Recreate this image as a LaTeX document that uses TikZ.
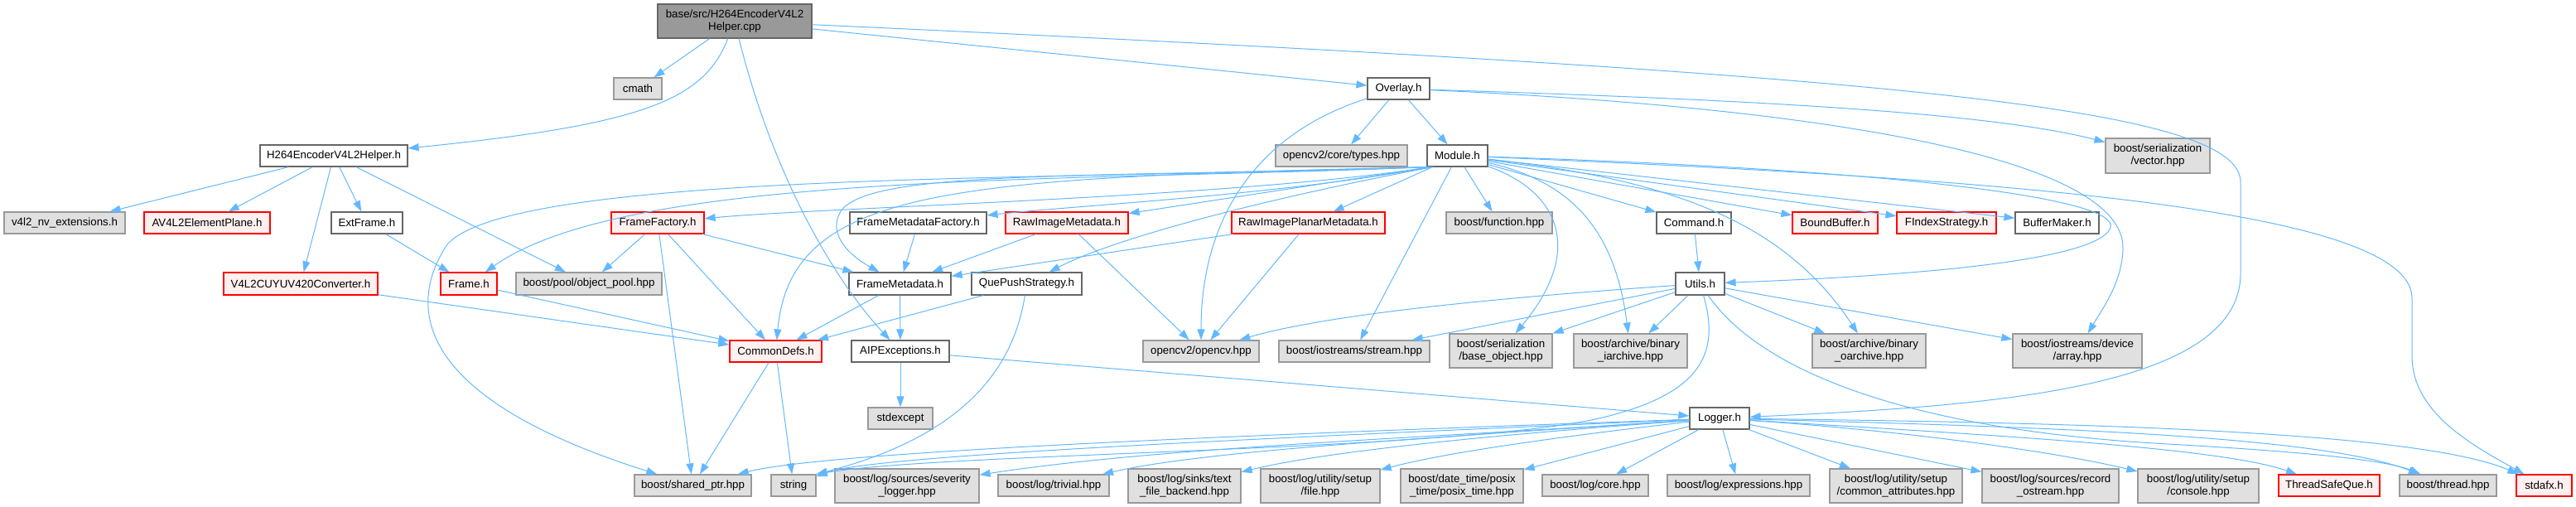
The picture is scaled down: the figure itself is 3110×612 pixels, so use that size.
\documentclass[tikz,border=0pt]{standalone}
\usepackage{fontspec}
\setmainfont{Liberation Sans}
\usetikzlibrary{arrows.meta}
\definecolor{edgec}{HTML}{63B8FF}
\definecolor{bordn}{HTML}{666666}
\definecolor{bordg}{HTML}{999999}
\definecolor{fillg}{HTML}{E0E0E0}
\definecolor{fillr}{HTML}{FFF0F0}
\definecolor{fillroot}{HTML}{999999}
\newcommand{\nfont}{\fontsize{13.3}{15}\selectfont}
\newcommand{\bx}[7]{%
  \pgfmathsetmacro{\bxcx}{(#3+#5)/2}\pgfmathsetmacro{\bxcy}{(#4+#6)/2}%
  \pgfmathsetmacro{\bxw}{#5-#3}\pgfmathsetmacro{\bxh}{#6-#4}%
  \node[#2, minimum width=\bxw pt, minimum height=\bxh pt] (#1) at (\bxcx,\bxcy) {#7};}
\tikzset{
  nd/.style={draw=bordn, fill=white, line width=1.2pt, inner sep=0pt, align=center, font=\nfont},
  gr/.style={nd, draw=bordg, fill=fillg},
  rd/.style={nd, draw=red, fill=fillr},
  rt/.style={nd, draw=bordn, fill=fillroot},
  e/.style={draw=edgec, line width=1pt, -{Triangle[length=13pt,width=9pt]}}
}
\begin{document}
\begin{tikzpicture}[x=1pt,y=-1pt]
\useasboundingbox (0,0) rectangle (3110,612);
% row 0
\bx{root}{rt}{794}{5}{980}{46}{base/src/H264EncoderV4L2\\Helper.cpp}
% row 1
\bx{cmath}{gr}{741}{94}{799}{120}{cmath}
\bx{overlay}{nd}{1651}{94}{1726}{120}{Overlay.h}
% row 2
\bx{h264h}{nd}{314}{175}{492}{201}{H264EncoderV4L2Helper.h}
\bx{types}{gr}{1540}{175}{1699}{201}{opencv2/core/types.hpp}
\bx{module}{nd}{1723}{175}{1796}{201}{Module.h}
\bx{vector}{gr}{2542}{167}{2668}{209}{boost/serialization\\/vector.hpp}
% row 3
\bx{v4l2}{gr}{5}{256}{151}{282}{v4l2\_nv\_extensions.h}
\bx{av4l2}{rd}{174}{256}{326}{282}{AV4L2ElementPlane.h}
\bx{extframe}{nd}{400}{256}{486}{282}{ExtFrame.h}
\bx{ff}{rd}{738}{256}{850}{282}{FrameFactory.h}
\bx{fmf}{nd}{1026}{256}{1191}{282}{FrameMetadataFactory.h}
\bx{rawimg}{rd}{1214}{256}{1362}{282}{RawImageMetadata.h}
\bx{rawplanar}{rd}{1487}{256}{1672}{282}{RawImagePlanarMetadata.h}
\bx{function}{gr}{1746}{256}{1874}{282}{boost/function.hpp}
\bx{command}{nd}{2000}{256}{2090}{282}{Command.h}
\bx{boundbuf}{rd}{2164}{256}{2267}{282}{BoundBuffer.h}
\bx{findex}{rd}{2290}{256}{2410}{282}{FIndexStrategy.h}
\bx{bufmaker}{nd}{2433}{256}{2534}{282}{BufferMaker.h}
% row 4
\bx{v4l2cu}{rd}{270}{329}{456}{356}{V4L2CUYUV420Converter.h}
\bx{frame}{rd}{532}{329}{600}{356}{Frame.h}
\bx{objpool}{gr}{623}{329}{799}{356}{boost/pool/object\_pool.hpp}
\bx{fmeta}{nd}{1025}{329}{1148}{356}{FrameMetadata.h}
\bx{quepush}{nd}{1173}{329}{1306}{356}{QuePushStrategy.h}
\bx{utils}{nd}{2023}{329}{2082}{356}{Utils.h}
% row 5
\bx{commondefs}{rd}{881}{411}{992}{437}{CommonDefs.h}
\bx{aip}{nd}{1028}{411}{1146}{437}{AIPExceptions.h}
\bx{opencv}{gr}{1380}{411}{1520}{437}{opencv2/opencv.hpp}
\bx{stream}{gr}{1544}{411}{1726}{437}{boost/iostreams/stream.hpp}
\bx{baseobj}{gr}{1750}{403}{1874}{444}{boost/serialization\\/base\_object.hpp}
\bx{iarchive}{gr}{1900}{403}{2037}{444}{boost/archive/binary\\\_iarchive.hpp}
\bx{oarchive}{gr}{2188}{403}{2325}{444}{boost/archive/binary\\\_oarchive.hpp}
\bx{array}{gr}{2430}{403}{2586}{444}{boost/iostreams/device\\/array.hpp}
% row 6
\bx{stdexcept}{gr}{1048}{492}{1126}{518}{stdexcept}
\bx{logger}{nd}{2040}{492}{2112}{518}{Logger.h}
% row 7
\bx{sharedptr}{gr}{766}{573}{907}{599}{boost/shared\_ptr.hpp}
\bx{string}{gr}{931}{573}{985}{599}{string}
\bx{severity}{gr}{1008}{566}{1182}{607}{boost/log/sources/severity\\\_logger.hpp}
\bx{trivial}{gr}{1205}{573}{1339}{599}{boost/log/trivial.hpp}
\bx{textfile}{gr}{1362}{566}{1498}{607}{boost/log/sinks/text\\\_file\_backend.hpp}
\bx{file}{gr}{1522}{566}{1666}{607}{boost/log/utility/setup\\/file.hpp}
\bx{posix}{gr}{1691}{566}{1839}{607}{boost/date\_time/posix\\\_time/posix\_time.hpp}
\bx{core}{gr}{1862}{573}{1990}{599}{boost/log/core.hpp}
\bx{expressions}{gr}{2013}{573}{2185}{599}{boost/log/expressions.hpp}
\bx{commonattr}{gr}{2209}{566}{2369}{607}{boost/log/utility/setup\\/common\_attributes.hpp}
\bx{record}{gr}{2393}{566}{2558}{607}{boost/log/sources/record\\\_ostream.hpp}
\bx{console}{gr}{2581}{566}{2727}{607}{boost/log/utility/setup\\/console.hpp}
\bx{tsq}{rd}{2751}{573}{2873}{599}{ThreadSafeQue.h}
\bx{thread}{gr}{2897}{573}{3014}{599}{boost/thread.hpp}
\bx{stdafx}{rd}{3038}{573}{3105}{599}{stdafx.h}
% ---- edges ----
% root
\draw[e] (root) -- (cmath);
\draw[e] (root) .. controls (850,120) and (780,150) .. (h264h);
\draw[e] (root) .. controls (930,200) and (1000,330) .. (aip);
\draw[e] (root) -- (overlay);
\draw[e] (root) .. controls (2300,90) and (2705,130) .. (2705,220) -- (2705,330) .. controls (2705,470) and (2400,490) .. (logger);
% overlay
\draw[e] (overlay) -- (types);
\draw[e] (overlay) -- (module);
\draw[e] (overlay) .. controls (1520,160) and (1450,260) .. (opencv);
\draw[e] (overlay) .. controls (2100,120) and (2400,135) .. (vector);
\draw[e] (overlay) .. controls (2200,130) and (2565,190) .. (2563,300) .. controls (2562,340) and (2540,370) .. (array);
% h264 helper
\draw[e] (h264h) -- (v4l2);
\draw[e] (h264h) -- (av4l2);
\draw[e] (h264h) -- (v4l2cu);
\draw[e] (h264h) -- (extframe);
\draw[e] (h264h) -- (objpool);
\draw[e] (extframe) -- (frame);
% frame factory
\draw[e] (ff) -- (objpool);
\draw[e] (ff) -- (sharedptr);
\draw[e] (ff) -- (commondefs);
\draw[e] (ff) -- (fmeta);
% module
\draw[e] ([xshift=4pt]module.south west) .. controls (1500,238) and (1000,250) .. (ff);
\draw[e] ([xshift=4pt]module.south west) .. controls (1550,235) and (1300,248) .. (fmf);
\draw[e] ([xshift=6pt]module.south west) -- (rawimg);
\draw[e] (module) -- (rawplanar);
\draw[e] (module) -- (function);
\draw[e] (module) -- (command);
\draw[e] (module) -- (boundbuf);
\draw[e] (module) -- (findex);
\draw[e] (module) -- (bufmaker);
\draw[e] ([xshift=2pt]module.south west) .. controls (1300,218) and (620,205) .. (540,295) .. controls (490,370) and (500,480) .. (sharedptr);
\draw[e] ([xshift=2pt]module.south west) .. controls (1300,220) and (760,205) .. (frame);
\draw[e] ([xshift=2pt]module.south west) .. controls (1150,215) and (955,225) .. (commondefs);
\draw[e] ([xshift=2pt]module.south west) .. controls (1300,215) and (1050,205) .. (1015,255) .. controls (1000,280) and (1020,305) .. (fmeta);
\draw[e] ([xshift=8pt]module.south west) .. controls (1550,235) and (1350,285) .. (quepush);
\draw[e] (module) -- (stream);
\draw[e] (module) .. controls (1880,230) and (1915,300) .. (baseobj);
\draw[e] (module) .. controls (1900,220) and (1950,280) .. (iarchive);
\draw[e] (module) .. controls (2000,215) and (2150,260) .. (oarchive);
\draw[e] (module) .. controls (2300,205) and (2560,240) .. (2548,275) .. controls (2530,320) and (2250,335) .. (utils);
\draw[e] (module) .. controls (2400,215) and (2912,250) .. (2912,360) -- (2912,430) .. controls (2912,500) and (2990,540) .. (stdafx);
% metadata family
\draw[e] (fmf) -- (fmeta);
\draw[e] (rawimg) -- (fmeta);
\draw[e] (rawimg) -- (opencv);
\draw[e] (rawplanar) -- (fmeta);
\draw[e] (rawplanar) -- (opencv);
\draw[e] (fmeta) -- (commondefs);
\draw[e] (fmeta) -- (aip);
\draw[e] (quepush) -- (commondefs);
\draw[e] (quepush) .. controls (1220,470) and (1130,535) .. (string.north east);
\draw[e] (v4l2cu) -- (commondefs);
\draw[e] (frame) -- (commondefs);
\draw[e] (commondefs) -- (sharedptr);
\draw[e] (commondefs) -- (string);
\draw[e] (aip) -- (stdexcept);
\draw[e] (aip) -- (logger);
% command / utils
\draw[e] (command) -- (utils);
\draw[e] (utils) .. controls (1800,360) and (1600,380) .. (opencv);
\draw[e] (utils) -- (stream);
\draw[e] (utils) -- (baseobj);
\draw[e] (utils) -- (iarchive);
\draw[e] (utils) -- (oarchive);
\draw[e] (utils) -- (array);
\draw[e] (utils) .. controls (2075,420) and (2060,470) .. (1950,500) .. controls (1800,545) and (1150,545) .. (string.north east);
\draw[e] (utils) .. controls (2120,440) and (2280,515) .. (2600,535) .. controls (2780,545) and (2880,555) .. (thread);
% logger
\draw[e] (logger) .. controls (1500,525) and (1000,545) .. (sharedptr);
\draw[e] (logger) .. controls (1500,530) and (1050,550) .. (string);
\draw[e] (logger) .. controls (1700,530) and (1400,540) .. (severity);
\draw[e] (logger) .. controls (1700,530) and (1450,545) .. (trivial);
\draw[e] (logger) .. controls (1800,525) and (1600,545) .. (textfile);
\draw[e] (logger) .. controls (1900,525) and (1750,545) .. (file);
\draw[e] (logger) -- (posix);
\draw[e] (logger) -- (core);
\draw[e] (logger) -- (expressions);
\draw[e] (logger) -- (commonattr);
\draw[e] (logger) -- (record);
\draw[e] (logger) .. controls (2300,520) and (2480,545) .. (console);
\draw[e] (logger) .. controls (2400,525) and (2680,540) .. (tsq);
\draw[e] (logger) .. controls (2450,515) and (2800,525) .. (thread);
\draw[e] (logger) .. controls (2500,510) and (2920,520) .. (stdafx);
\end{tikzpicture}
\end{document}
